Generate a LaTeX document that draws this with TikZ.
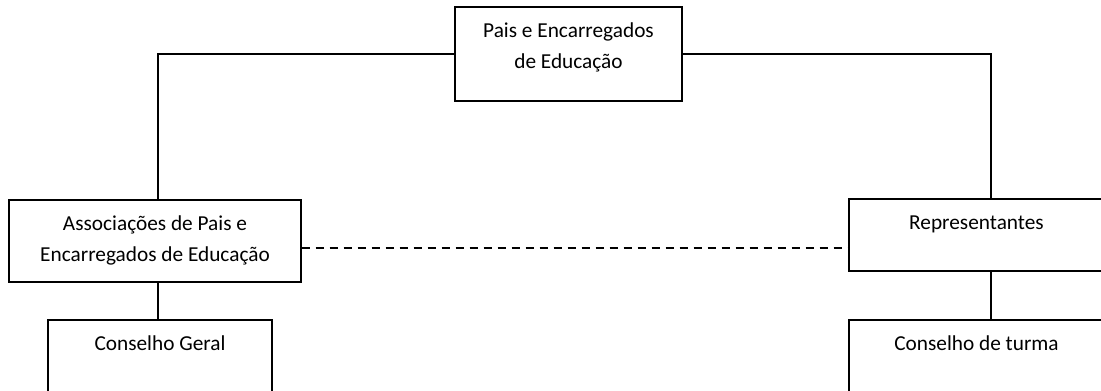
\documentclass[tikz,border=0pt]{standalone}
\usepackage{fontspec}
\setmainfont{Carlito}
\usetikzlibrary{positioning}
\usetikzlibrary{calc}

\tikzset{
  box/.style={draw, line width=1.2pt, inner sep=0pt},
  boxtext/.style={anchor=base, align=center, inner sep=0pt,
    font=\fontsize{21.3}{30.7}\selectfont},
  link/.style={line width=1.2pt},
}

\begin{document}
\begin{tikzpicture}[x=1pt,y=-1pt]
    \clip (0,0) rectangle (1101,391);
    \fill[white] (0,0) rectangle (1101,391);
    % boxes
    \node[box, minimum width=227pt, minimum height=94pt] (pais) at (568.5,54) {};
    \node[box, minimum width=292pt, minimum height=82pt] (assoc) at (155,241) {};
    \node[box, minimum width=224pt, minimum height=80pt] (geral) at (160,360) {};
    \node[box, minimum width=255pt, minimum height=72pt] (rep) at (976.5,235) {};
    \node[box, minimum width=255pt, minimum height=80pt] (turma) at (976.5,360) {};
    % texts (base = last line)
    \node[boxtext] (paistxt) at ([yshift=-61.7pt]pais.north) {Pais e Encarregados\\de Educação};
    \node[boxtext] (assoctxt) at ([yshift=-61.7pt]assoc.north) {Associações de Pais e\\Encarregados de Educação};
    \node[boxtext] (geraltxt) at ([yshift=-31pt]geral.north) {Conselho Geral};
    \node[boxtext] (reptxt) at ([yshift=-31pt]rep.north) {Representantes};
    \node[boxtext] (turmatxt) at ([yshift=-31pt]turma.north) {Conselho de turma};
    % connectors
    \draw[link] (pais.west) -| ([xshift=3pt]assoc.north);
    \draw[link] (pais.east) -| ([xshift=14.5pt]rep.north);
    \draw[link] ([xshift=3pt]assoc.south) -- ([xshift=3pt]assoc.south |- geral.north);
    \draw[link] ([xshift=14.5pt]rep.south) -- ([xshift=14.5pt]rep.south |- turma.north);
    \draw[link, dash pattern=on 8pt off 6pt] ([yshift=-7pt]assoc.east) -- ([yshift=-7pt]assoc.east -| rep.west);
  \end{tikzpicture}
\end{document}
